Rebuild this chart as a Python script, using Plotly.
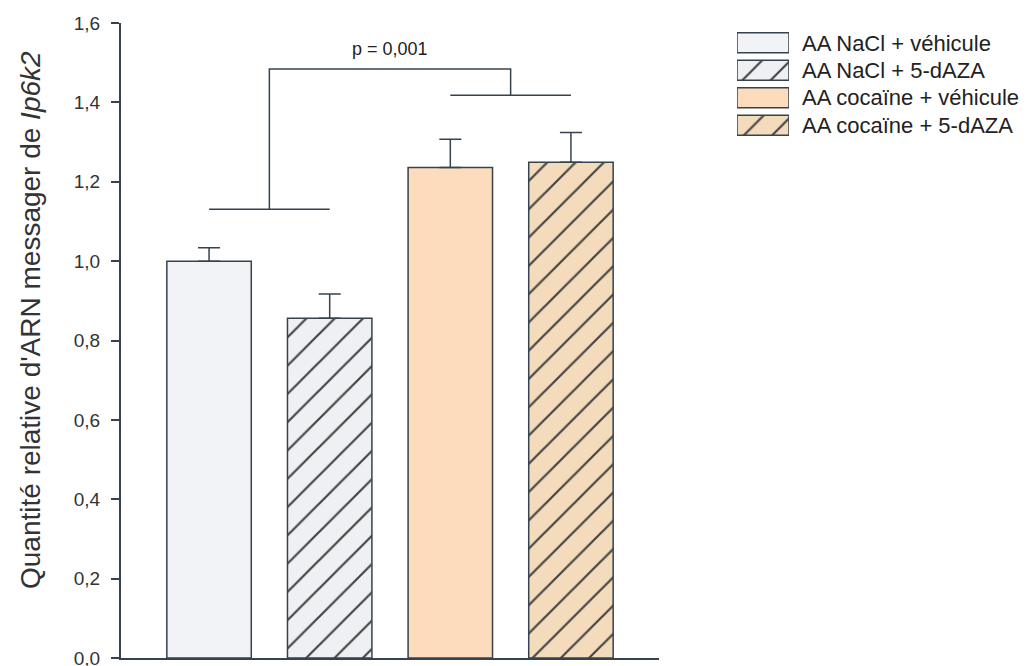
import plotly.graph_objects as go

# page body has an 8px margin; figure is sized to fill the window from there
OFF = 8
W, H = 1030 - OFF, 666 - OFF + 14

# ---- data ----
groups = ["AA NaCl + véhicule", "AA NaCl + 5-dAZA", "AA cocaïne + véhicule", "AA cocaïne + 5-dAZA"]
means = [1.0, 0.856, 1.236, 1.249]
sem = [0.034, 0.061, 0.071, 0.075]
fill_colors = ["#f2f3f6", "#eef0f3", "#fcdcbc", "#f4dbbb"]
hatch = ["", "/", "", "/"]
y_ticks = [0.0, 0.2, 0.4, 0.6, 0.8, 1.0, 1.2, 1.4, 1.6]
y_tick_labels = ["0,0", "0,2", "0,4", "0,6", "0,8", "1,0", "1,2", "1,4", "1,6"]
# significance bracket (group positions and heights)
bracket_low_left = 1.131
bracket_low_right = 1.418
bracket_top = 1.484
p_text = "p = 0,001"
p_y = 1.534

LINE = "#34434f"
HATCH_FG = "#1f2a33"


def px_x(x):  # reference pixel -> paper fraction
    return (x - OFF) / W


def px_y(y):
    return 1 - (y - OFF) / H


x_pos = list(range(len(groups)))

fig = go.Figure()

fig.add_trace(go.Bar(
    x=x_pos, y=means, width=0.70,
    marker=dict(
        color=fill_colors,
        line=dict(color=LINE, width=1.5),
        pattern=dict(shape=hatch, size=20, solidity=0.11,
                     fgcolor=HATCH_FG, bgcolor=fill_colors, fgopacity=1),
    ),
    error_y=dict(type="data", array=sem, arrayminus=[0] * len(sem), symmetric=False,
                 color=LINE, thickness=1.5, width=11),
    showlegend=False, xaxis="x", yaxis="y",
))

# bracket
bx = [0, 1, None, 2, 3, None, 0.5, 0.5, 2.5, 2.5]
by = [bracket_low_left, bracket_low_left, None, bracket_low_right, bracket_low_right, None,
      bracket_low_left, bracket_top, bracket_top, bracket_low_right]
fig.add_trace(go.Scatter(x=bx, y=by, mode="lines", line=dict(color=LINE, width=1.5),
                         showlegend=False, hoverinfo="skip", xaxis="x", yaxis="y"))

# legend drawn as a small axis pair
fig.add_trace(go.Bar(
    y=x_pos, x=[1] * len(groups), orientation="h", width=0.72,
    marker=dict(
        color=fill_colors,
        line=dict(color=LINE, width=1.5),
        pattern=dict(shape=hatch, size=20, solidity=0.11,
                     fgcolor=HATCH_FG, bgcolor=fill_colors, fgopacity=1),
    ),
    showlegend=False, xaxis="x2", yaxis="y2", hoverinfo="skip",
))

font_family = "Liberation Sans, Arial, sans-serif"

annotations = [
    dict(x=1.5, y=p_y, xref="x", yref="y", text=p_text, showarrow=False,
         font=dict(size=18, color="#222", family=font_family), xanchor="center", yanchor="middle"),
    dict(x=px_x(30), y=px_y(320), xref="paper", yref="paper",
         text="Quantité relative d'ARN messager de <i>Ip6k2</i>", textangle=-90,
         showarrow=False, font=dict(size=28, color="#333", family=font_family),
         xanchor="center", yanchor="middle"),
]
row_centers = [43, 70.5, 98, 125.5]
for g, yc in zip(groups, row_centers):
    annotations.append(dict(x=px_x(800), y=px_y(yc), xref="paper", yref="paper", text=g,
                            showarrow=False, xanchor="left", yanchor="middle",
                            font=dict(size=22, color="#222", family=font_family)))

fig.update_layout(
    width=W, height=H,
    margin=dict(l=0, r=0, t=0, b=0, autoexpand=False),
    paper_bgcolor="white", plot_bgcolor="white",
    font=dict(family=font_family),
    xaxis=dict(domain=[px_x(121), px_x(659)], range=[-0.73, 3.73], showgrid=False, zeroline=False,
               showline=True, linecolor=LINE, linewidth=2, ticks="", showticklabels=False,
               fixedrange=True, automargin=False),
    yaxis=dict(domain=[px_y(658), px_y(23)], range=[0, 1.6], showgrid=False, zeroline=False,
               showline=True, linecolor=LINE, linewidth=2, ticks="outside", ticklen=8,
               tickwidth=1.5, tickcolor=LINE, tickvals=y_ticks, ticktext=y_tick_labels,
               tickfont=dict(size=19, color="#333", family=font_family),
               ticklabelstandoff=7, fixedrange=True, automargin=False),
    xaxis2=dict(domain=[px_x(737), px_x(789)], range=[0, 1], visible=False, fixedrange=True),
    yaxis2=dict(domain=[px_y(139), px_y(29)], range=[3.5, -0.5], visible=False,
                fixedrange=True),
    annotations=annotations,
)

fig.write_html("out.html")
